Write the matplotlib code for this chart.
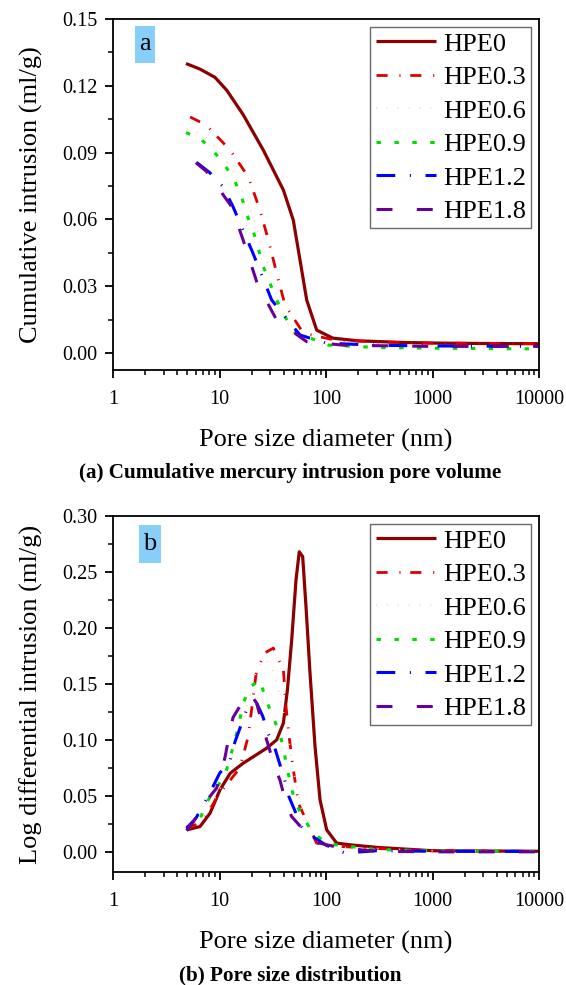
import matplotlib
matplotlib.use('Agg')
import matplotlib.pyplot as plt
from matplotlib.patches import Rectangle
from matplotlib.ticker import FormatStrFormatter, MultipleLocator, LogLocator, NullFormatter, FixedFormatter, FixedLocator

plt.rcParams['font.family'] = ['Liberation Serif', 'DejaVu Serif']
plt.rcParams['lines.scale_dashes'] = False

labels = ['HPE0', 'HPE0.3', 'HPE0.6', 'HPE0.9', 'HPE1.2', 'HPE1.8']

# (a) cumulative intrusion, ml/g
cum_d0 = [4.85, 6.56, 9.07, 11.7, 16.7, 25.8, 39.8, 49.3, 57, 65.9, 81.8, 116, 200, 500, 1000, 3000, 10000]
cum_v0 = [0.130, 0.1275, 0.1238, 0.118, 0.107, 0.0911, 0.0732, 0.0597, 0.0418, 0.0238, 0.0103, 0.0067, 0.0055, 0.0048, 0.0045, 0.0043, 0.0042]
cum_d03 = [5.3, 7.5, 12.6, 18.6, 23.7, 28.8, 34.4, 41.2, 61.2, 116, 300, 1000, 10000]
cum_v03 = [0.106, 0.1024, 0.0911, 0.0792, 0.065, 0.0507, 0.0359, 0.0216, 0.009, 0.006, 0.005, 0.0045, 0.0042]
cum_d06 = [4.9, 7, 10, 14, 19, 24, 30, 37, 48, 70, 150, 1000, 10000]
cum_v06 = [0.101, 0.098, 0.091, 0.080, 0.066, 0.052, 0.036, 0.021, 0.009, 0.004, 0.003, 0.003, 0.003]
cum_d09 = [4.85, 6.56, 8.87, 11.3, 13.8, 16.1, 18, 20.8, 23.2, 25.8, 29.8, 34.4, 41.2, 51.2, 105, 300, 1000, 3000, 10000]
cum_v09 = [0.099, 0.0964, 0.0904, 0.0841, 0.0777, 0.0702, 0.0624, 0.0545, 0.0467, 0.0388, 0.0314, 0.0238, 0.0163, 0.0094, 0.0036, 0.0025, 0.0022, 0.002, 0.0019]
cum_d12 = [6.1, 8.1, 10.8, 13.4, 20.6, 30.9, 57, 100, 300, 1000, 10000]
cum_v12 = [0.0856, 0.081, 0.0747, 0.0657, 0.0449, 0.0238, 0.0081, 0.0045, 0.0035, 0.0032, 0.003]
cum_d18 = [6.0, 7.6, 13, 17.3, 22.6, 34.4, 65.9, 150, 1000, 10000]
cum_v18 = [0.0855, 0.0814, 0.0657, 0.0485, 0.0313, 0.0148, 0.0051, 0.0035, 0.003, 0.003]

# (b) log differential intrusion, ml/g
psd_d0 = [4.92, 6.56, 8.15, 10.1, 12.6, 16.7, 20.8, 27.7, 34.4, 39.8, 43.4, 47.6, 52.3, 56.1, 60.4, 64.9, 70.8, 78.9, 87.9, 101.5, 126, 168, 300, 1000, 10000]
psd_v0 = [0.0196, 0.0226, 0.0345, 0.0554, 0.0702, 0.0792, 0.085, 0.0926, 0.1, 0.115, 0.1446, 0.189, 0.243, 0.268, 0.2637, 0.219, 0.1595, 0.094, 0.0464, 0.0196, 0.0078, 0.0063, 0.004, 0.001, 0.0005]
psd_d03 = [4.9, 7, 10.1, 15.5, 18.6, 22.3, 27, 32, 39.8, 42, 45, 49.4, 55, 81.6, 125, 300, 1000, 10000]
psd_v03 = [0.02, 0.028, 0.0527, 0.0747, 0.103, 0.1625, 0.178, 0.182, 0.1625, 0.131, 0.103, 0.0732, 0.0435, 0.0078, 0.005, 0.003, 0.001, 0.0005]
psd_d06 = [4.9, 7, 10, 14, 18, 22, 26, 30, 35, 42, 50, 60, 80, 130, 1000, 10000]
psd_v06 = [0.02, 0.03, 0.055, 0.09, 0.13, 0.16, 0.172, 0.168, 0.15, 0.115, 0.07, 0.035, 0.012, 0.004, 0.001, 0.0005]
psd_d09 = [4.9, 6.56, 7.3, 11.3, 14, 15.3, 16.5, 19, 24, 26.7, 30.9, 36.4, 39.8, 42.8, 46.5, 51, 61.2, 77, 105, 300, 1000, 10000]
psd_v09 = [0.022, 0.0286, 0.042, 0.0688, 0.1, 0.1155, 0.131, 0.1467, 0.1536, 0.1387, 0.123, 0.1074, 0.0926, 0.0762, 0.0607, 0.0449, 0.0301, 0.0161, 0.0071, 0.002, 0.001, 0.0005]
psd_d12 = [4.9, 6, 8.1, 10, 12.6, 14, 18, 20, 22.3, 25.5, 28.5, 33, 41, 45, 59, 70.8, 100, 150, 300, 1000, 10000]
psd_v12 = [0.021, 0.03, 0.0524, 0.07, 0.082, 0.0985, 0.127, 0.131, 0.133, 0.121, 0.106, 0.093, 0.064, 0.049, 0.0226, 0.0152, 0.006, -0.001, 0.001, 0.0005, 0.0003]
psd_d18 = [4.9, 5.7, 7.6, 9.4, 10.5, 11.3, 12.6, 13.4, 18, 19.5, 22.3, 25.5, 27.7, 33, 37, 42, 47.6, 65, 85, 135, 300, 1000, 10000]
psd_v18 = [0.019, 0.027, 0.046, 0.057, 0.073, 0.085, 0.109, 0.12, 0.140, 0.141, 0.133, 0.112, 0.1, 0.076, 0.064, 0.0437, 0.0315, 0.017, 0.008, 0.0036, 0.0005, 0.0, 0.0]

cum_series = [(cum_d0, cum_v0), (cum_d03, cum_v03), (cum_d06, cum_v06),
              (cum_d09, cum_v09), (cum_d12, cum_v12), (cum_d18, cum_v18)]
psd_series = [(psd_d0, psd_v0), (psd_d03, psd_v03), (psd_d06, psd_v06),
              (psd_d09, psd_v09), (psd_d12, psd_v12), (psd_d18, psd_v18)]

# line looks (dash lengths in points)
styles = [
	dict(color='#8B0000', lw=2.3, ls='-'),
	dict(color='#DD0000', lw=2.0, ls=(0, (8, 8.5, 0.8, 7))),
	dict(color='#FADBB0', lw=1.2, ls=(0, (0.8, 7))),
	dict(color='#00DD00', lw=2.2, ls=(0, (3.2, 9.7))),
	dict(color='#0000FF', lw=2.2, ls=(0, (13.5, 10.5, 0.8, 10.5))),
	dict(color='#660099', lw=2.2, ls=(0, (11.5, 17.5))),
]

xlabel = 'Pore size diameter (nm)'
xticks = [1, 10, 100, 1000, 10000]
xticklabels = ['1', '10', '100', '1000', '10000']

fig = plt.figure(figsize=(5.66, 9.85), dpi=100)
ax_a = fig.add_axes([113/566, 1-370/985, 426/566, 351/985])
ax_b = fig.add_axes([113/566, 1-872/985, 426/566, 356/985])

def setup(ax, series, ylim, ystep, ylabel, tag, tagbox):
	for (d, v), lab, st in zip(series, labels, styles):
		ax.plot(d, v, label=lab, solid_capstyle='butt', dash_capstyle='butt', **st)
	ax.set_xscale('log')
	ax.set_xlim(1, 10000)
	ax.set_ylim(*ylim)
	ax.xaxis.set_major_locator(FixedLocator(xticks))
	ax.xaxis.set_major_formatter(FixedFormatter(xticklabels))
	ax.xaxis.set_minor_locator(LogLocator(base=10, subs=range(2, 10), numticks=20))
	ax.xaxis.set_minor_formatter(NullFormatter())
	ax.yaxis.set_major_locator(MultipleLocator(ystep))
	ax.yaxis.set_minor_locator(MultipleLocator(ystep/2))
	ax.yaxis.set_major_formatter(FormatStrFormatter('%.2f'))
	ax.tick_params(which='major', direction='out', length=6, width=1.3, labelsize=14.5, pad=5)
	ax.tick_params(axis='x', which='major', pad=8.5)
	ax.tick_params(which='minor', direction='out', length=3.5, width=1.1)
	ax.tick_params(top=False, right=False)
	for s in ax.spines.values():
		s.set_linewidth(1.3)
	ax.set_xlabel(xlabel, fontsize=19, labelpad=14)
	ax.set_ylabel(ylabel, fontsize=19)
	ax.yaxis.set_label_coords(-0.165, 0.5)
	leg = ax.legend(loc='upper right', fontsize=19, frameon=True, fancybox=False,
		handlelength=2.3, handletextpad=0.25, labelspacing=0.38,
		borderpad=0.2, borderaxespad=0.3)
	leg.get_frame().set_edgecolor('#444444')
	leg.get_frame().set_linewidth(1.0)
	x0, y0, w, h = tagbox
	ax.add_patch(Rectangle((x0, y0), w, h, transform=ax.transAxes,
		facecolor='#87CEFA', edgecolor='none', zorder=3))
	ax.text(x0 + w/2, y0 + h/2, tag, transform=ax.transAxes, fontsize=19,
		ha='center', va='center', zorder=4)

setup(ax_a, cum_series, (-0.0076, 0.15), 0.03, 'Cumulative intrusion (ml/g)', 'a',
	(0.0516, 0.875, 0.047, 0.105))
setup(ax_b, psd_series, (-0.018, 0.30), 0.05, 'Log differential intrusion (ml/g)', 'b',
	(0.061, 0.867, 0.052, 0.108))

fig.text(0.512, 1-473/985, '(a) Cumulative mercury intrusion pore volume',
	fontsize=15.2, fontweight='bold', ha='center', va='center')
fig.text(0.512, 1-975/985, '(b) Pore size distribution',
	fontsize=15.2, fontweight='bold', ha='center', va='center')

fig.savefig('out.png', dpi=100)
